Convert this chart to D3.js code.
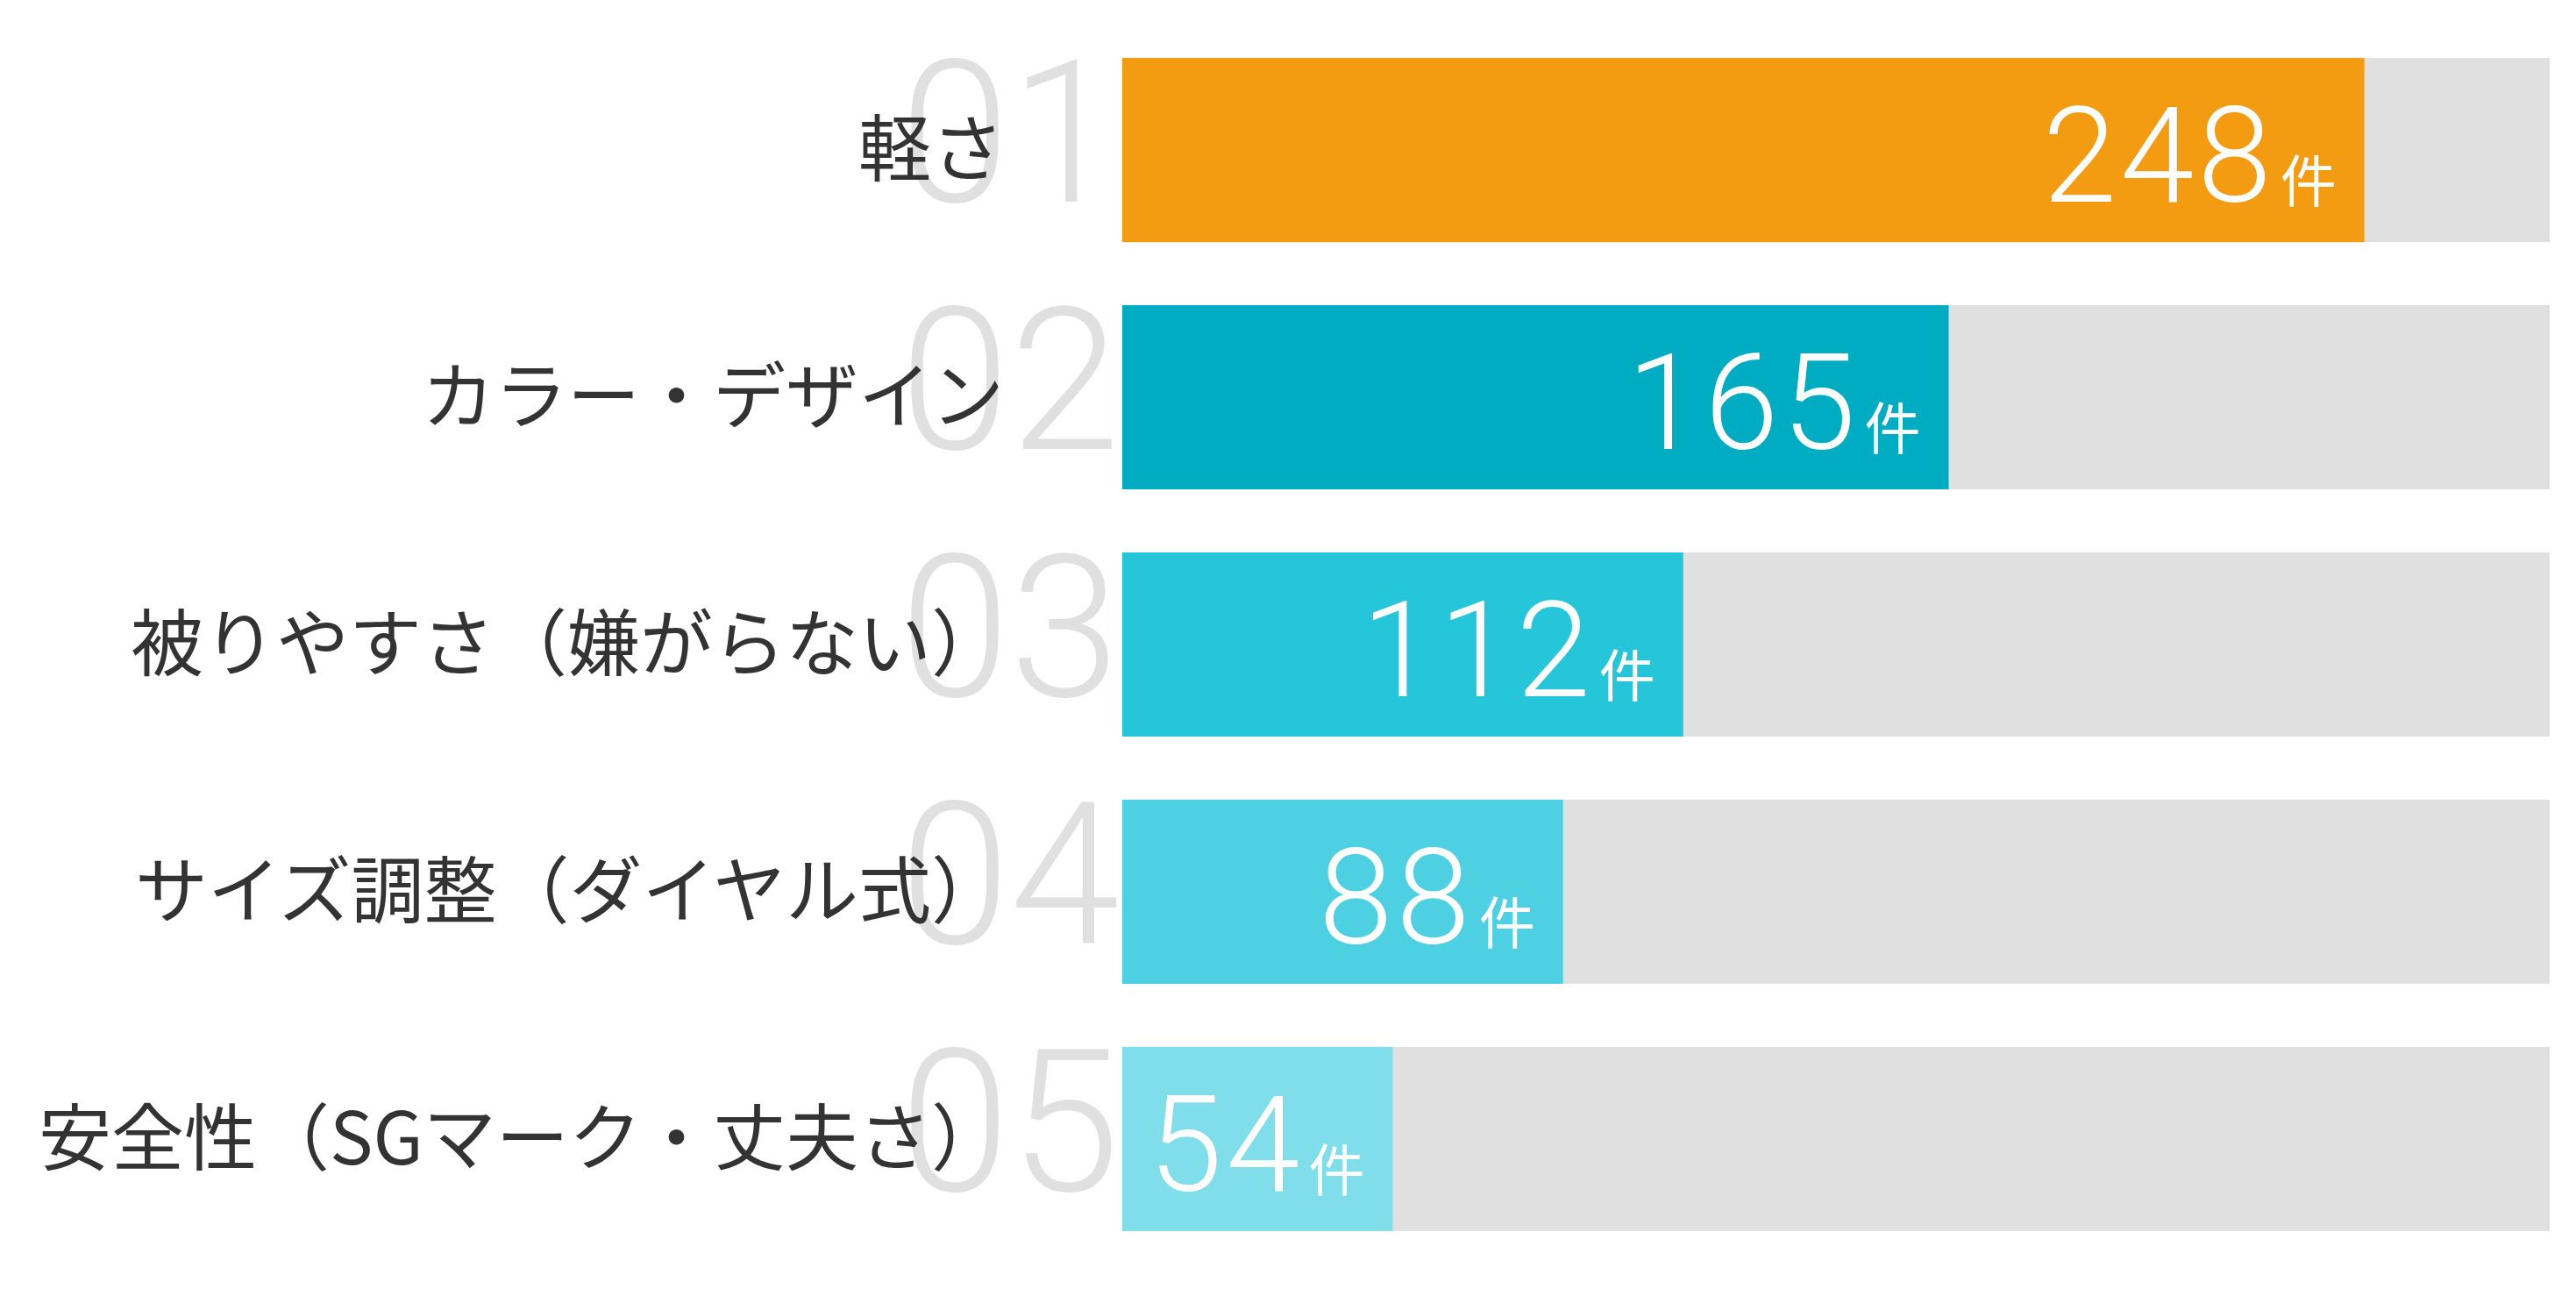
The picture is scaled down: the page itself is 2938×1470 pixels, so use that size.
<!DOCTYPE html>
<html>
<head>
<meta charset="utf-8">
<script src="https://cdn.jsdelivr.net/npm/d3@7"></script>
<style>
  html, body { margin: 0; padding: 0; background: #fff; }
</style>
</head>
<body>
<div id="chart_div"></div>
<script>
// chart data
const categories = ["軽さ", "カラー・デザイン", "被りやすさ（嫌がらない）", "サイズ調整（ダイヤル式）", "安全性（SGマーク・丈夫さ）"];
const ranks = ["01", "02", "03", "04", "05"];
const counts = [248, 165, 112, 88, 54];
const unit = "件";
const max_count = 285;

const width = 2938, height = 1470;
const bar_left = 1280, bar_right = 2908;

const svg = d3.select("#chart_div")
  .append("svg")
    .attr("width", width)
    .attr("height", height);

const x = d3.scaleLinear()
  .domain([0, max_count])
  .range([bar_left, bar_right]);

const y = d3.scaleBand()
  .domain(categories)
  .range([30, 1440])
  .paddingInner(0.255)
  .paddingOuter(0.128);

const color = d3.scaleOrdinal()
  .domain(categories)
  .range(["#F39C12", "#00ACC1", "#26C6DA", "#4DD0E1", "#80DEEA"]);

const rows = categories.map((c, i) => ({cat: c, rank: ranks[i], count: counts[i]}));

// big rank numbers behind the labels
svg.selectAll(".rank")
  .data(rows)
  .join("text")
    .attr("class", "rank")
    .attr("x", bar_left - 3)
    .attr("y", d => y(d.cat) + 164)
    .attr("text-anchor", "end")
    .style("font-family", "Roboto, sans-serif")
    .style("font-weight", 300)
    .style("font-size", "226px")
    .style("fill", "#E0E0E0")
    .text(d => d.rank);

// category labels (drawn over the rank numbers, as in the original)
svg.selectAll(".cat")
  .data(rows)
  .join("text")
    .attr("class", "cat")
    .attr("x", 1145)
    .attr("y", d => y(d.cat) + y.bandwidth() / 2 - 7)
    .attr("text-anchor", "end")
    .attr("dominant-baseline", "central")
    .style("font-family", "'Noto Sans CJK JP', sans-serif")
    .style("font-size", "83px")
    .style("fill", "#333333")
    .text(d => d.cat);

// grey track
svg.selectAll(".track")
  .data(rows)
  .join("rect")
    .attr("class", "track")
    .attr("x", x(0))
    .attr("y", d => y(d.cat))
    .attr("width", x(max_count) - x(0))
    .attr("height", y.bandwidth())
    .style("fill", "#E0E0E0");

// value bars
svg.selectAll(".bar")
  .data(rows)
  .join("rect")
    .attr("class", "bar")
    .attr("x", x(0))
    .attr("y", d => y(d.cat))
    .attr("width", d => x(d.count) - x(0))
    .attr("height", y.bandwidth())
    .style("fill", d => color(d.cat));

// value labels inside the bars
const vals = svg.selectAll(".val")
  .data(rows)
  .join("text")
    .attr("class", "val")
    .attr("x", d => x(d.count) - 32)
    .attr("y", d => y(d.cat) + 164)
    .attr("text-anchor", "end")
    .style("fill", "#ffffff");

vals.append("tspan")
  .style("font-family", "Roboto, sans-serif")
  .style("font-weight", 300)
  .style("font-size", "152px")
  .style("letter-spacing", "4px")
  .text(d => d.count);

vals.append("tspan")
  .attr("dx", 6)
  .style("font-family", "'Noto Sans CJK JP', sans-serif")
  .style("font-size", "64px")
  .text(unit);
</script>
</body>
</html>
